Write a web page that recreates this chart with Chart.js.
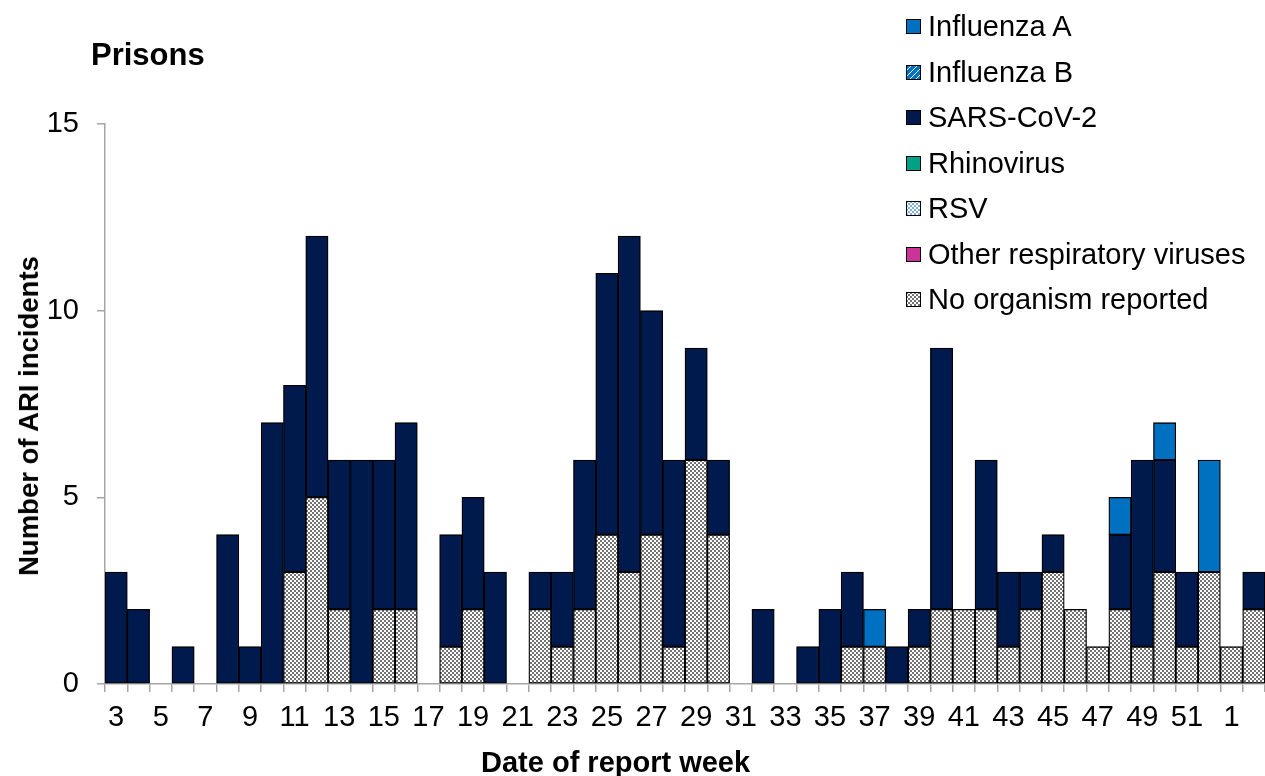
<!DOCTYPE html>
<html>
<head>
<meta charset="utf-8">
<title>Prisons</title>
<script src="https://cdn.jsdelivr.net/npm/chart.js@4/dist/chart.umd.min.js"></script>
<style>
	body { margin: 0; background: #fff; font-family: "Liberation Sans", Arial, sans-serif; }
	#wrap { position: relative; width: 1265px; height: 776px; }
	#title { position: absolute; left: 91px; top: 37px; font-size: 31px; font-weight: bold; color: #000; line-height: 36px; }
	#xTitle { position: absolute; left: 481px; top: 745px; font-size: 29px; font-weight: bold; line-height: 34px; white-space: nowrap; }
	#yTitle { position: absolute; left: 29px; top: 416px; font-size: 27.5px; font-weight: bold; line-height: 34px; white-space: nowrap;
		transform: translate(-50%, -50%) rotate(-90deg); }
	#legend { position: absolute; left: 906px; top: 4px; }
	.legend-row { display: flex; align-items: center; height: 45.5px; font-size: 29px; color: #000; white-space: nowrap; }
	.legend-row canvas { width: 15px; height: 15px; margin-right: 7px; }
</style>
</head>
<body>
<div id="wrap">
	<canvas id="ariChart"></canvas>
	<div id="title">Prisons</div>
	<div id="yTitle">Number of ARI incidents</div>
	<div id="xTitle">Date of report week</div>
	<div id="legend"></div>
</div>
<script>
const weeks = ['3', '4', '5', '6', '7', '8', '9', '10', '11', '12', '13', '14', '15', '16', '17', '18', '19', '20',
	'21', '22', '23', '24', '25', '26', '27', '28', '29', '30', '31', '32', '33', '34', '35', '36', '37', '38',
	'39', '40', '41', '42', '43', '44', '45', '46', '47', '48', '49', '50', '51', '52', '1', '2'];

// incidents per week, by organism
const noOrganism = [0, 0, 0, 0, 0, 0, 0, 0, 3, 5, 2, 0, 2, 2, 0, 1, 2, 0,
	0, 2, 1, 2, 4, 3, 4, 1, 6, 4, 0, 0, 0, 0, 0, 1, 1, 0,
	1, 2, 2, 2, 1, 2, 3, 2, 1, 2, 1, 3, 1, 3, 1, 2];
const otherViruses = new Array(52).fill(0);
const rsv = new Array(52).fill(0);
const rhinovirus = new Array(52).fill(0);
const sarsCov2 = [3, 2, 0, 1, 0, 4, 1, 7, 5, 7, 4, 6, 4, 5, 0, 3, 3, 3,
	0, 1, 2, 4, 7, 9, 6, 5, 3, 2, 0, 2, 0, 1, 2, 2, 0, 1,
	1, 7, 0, 4, 2, 1, 1, 0, 0, 2, 5, 3, 2, 0, 0, 1];
const influenzaB = new Array(52).fill(0);
const influenzaA = [0, 0, 0, 0, 0, 0, 0, 0, 0, 0, 0, 0, 0, 0, 0, 0, 0, 0,
	0, 0, 0, 0, 0, 0, 0, 0, 0, 0, 0, 0, 0, 0, 0, 0, 1, 0,
	0, 0, 0, 0, 0, 0, 0, 0, 0, 1, 0, 1, 0, 3, 0, 0];

const yTicks = [0, 5, 10, 15];

const FONT = '"Liberation Sans", Arial, sans-serif';

function makeTile(size, draw) {
	const c = document.createElement('canvas');
	c.width = size;
	c.height = size;
	draw(c.getContext('2d'));
	return c;
}

const tiles = {
	checkGrey: makeTile(4, function (g) {
		g.fillStyle = '#ffffff';
		g.fillRect(0, 0, 4, 4);
		g.fillStyle = '#737373';
		g.fillRect(0, 0, 2, 2);
		g.fillRect(2, 2, 2, 2);
	}),
	checkBlue: makeTile(4, function (g) {
		g.fillStyle = '#ffffff';
		g.fillRect(0, 0, 4, 4);
		g.fillStyle = '#7FB2E0';
		g.fillRect(0, 0, 2, 2);
		g.fillRect(2, 2, 2, 2);
	}),
	diagBlue: makeTile(6, function (g) {
		g.fillStyle = '#0070C0';
		g.fillRect(0, 0, 6, 6);
		g.fillStyle = '#ffffff';
		for (let i = 0; i < 6; i++) {
			g.fillRect(i, 5 - i, 1, 1);
		}
	})
};

function pattern(tile) {
	const g = document.createElement('canvas').getContext('2d');
	return g.createPattern(tile, 'repeat');
}

// bottom of stack first
const series = [
	{ label: 'No organism reported', data: noOrganism, fill: pattern(tiles.checkGrey), tile: tiles.checkGrey },
	{ label: 'Other respiratory viruses', data: otherViruses, fill: '#CC3399' },
	{ label: 'RSV', data: rsv, fill: pattern(tiles.checkBlue), tile: tiles.checkBlue },
	{ label: 'Rhinovirus', data: rhinovirus, fill: '#00A287' },
	{ label: 'SARS-CoV-2', data: sarsCov2, fill: '#011A4E' },
	{ label: 'Influenza B', data: influenzaB, fill: pattern(tiles.diagBlue), tile: tiles.diagBlue },
	{ label: 'Influenza A', data: influenzaA, fill: '#0070C0' }
];

// html legend, top entry = top of stack
function buildLegend() {
	const box = document.getElementById('legend');
	series.slice().reverse().forEach(function (s) {
		const row = document.createElement('div');
		row.className = 'legend-row';
		const sw = document.createElement('canvas');
		sw.width = 15;
		sw.height = 15;
		const g = sw.getContext('2d');
		g.fillStyle = s.tile ? g.createPattern(s.tile, 'repeat') : s.fill;
		g.fillRect(0, 0, 15, 15);
		g.strokeStyle = '#000';
		g.lineWidth = 1;
		g.strokeRect(0.5, 0.5, 14, 14);
		row.appendChild(sw);
		row.appendChild(document.createTextNode(s.label));
		box.appendChild(row);
	});
}

const axisGrey = '#A6A6A6';

const ctx = document.getElementById('ariChart').getContext('2d');
const ariChart = new Chart(ctx, {
	type: 'bar',
	data: {
		labels: weeks,
		datasets: series.map(function (s) {
			return {
				label: s.label,
				data: s.data.map(function (v) { return v === 0 ? null : v; }),
				backgroundColor: s.fill,
				borderColor: '#000000',
				borderWidth: 1.3,
				borderSkipped: false,
				barPercentage: 1,
				categoryPercentage: 1
			};
		})
	},
	options: {
		responsive: true,
		maintainAspectRatio: false,
		animation: false,
		layout: {
			padding: { top: 124, right: 0, bottom: 0, left: 0 }
		},
		plugins: {
			legend: { display: false },
			title: { display: false },
			tooltip: { enabled: false }
		},
		scales: {
			x: {
				stacked: true,
				afterFit: function (scale) { scale.height = 92; },
				border: { color: axisGrey, width: 1.5 },
				grid: {
					drawOnChartArea: false,
					drawTicks: true,
					tickLength: 8,
					color: axisGrey,
					lineWidth: 1.5
				},
				ticks: {
					autoSkip: false,
					maxRotation: 0,
					padding: 9,
					color: '#000',
					font: { family: FONT, size: 29 },
					callback: function (value, index) {
						return index % 2 === 0 ? weeks[index] : '';
					}
				}
			},
			y: {
				stacked: true,
				min: yTicks[0],
				max: yTicks[yTicks.length - 1],
				afterFit: function (scale) { scale.width = 105; },
				afterBuildTicks: function (scale) {
					scale.ticks = yTicks.map(function (v) { return { value: v }; });
				},
				border: { color: axisGrey, width: 1.5 },
				grid: {
					drawOnChartArea: false,
					drawTicks: true,
					tickLength: 8,
					color: axisGrey,
					lineWidth: 1.5
				},
				ticks: {
					padding: 18,
					color: '#000',
					font: { family: FONT, size: 29 }
				}
			}
		}
	}
});

buildLegend();
</script>
</body>
</html>
